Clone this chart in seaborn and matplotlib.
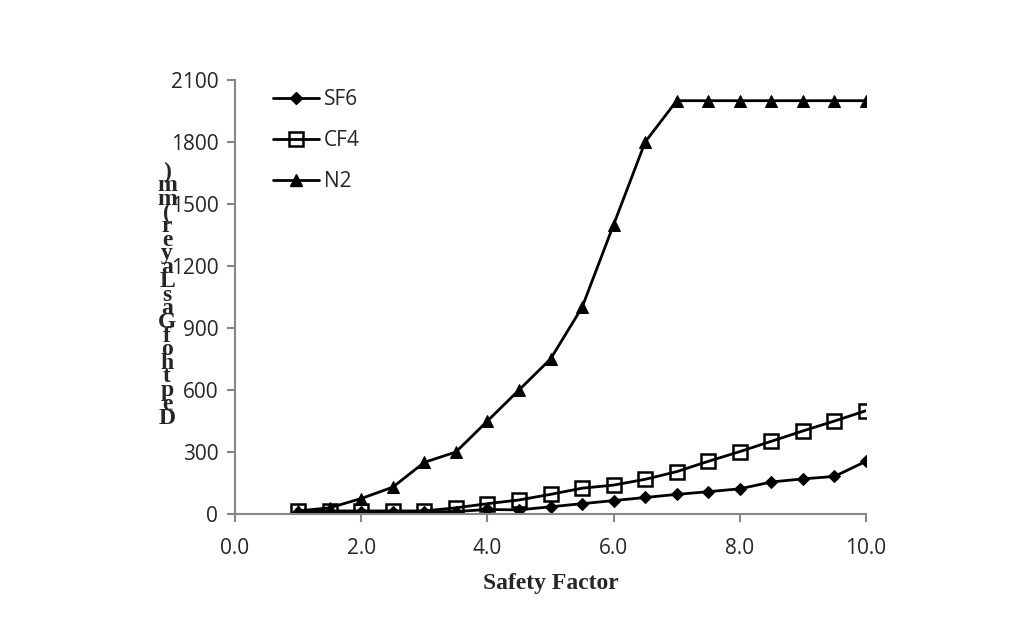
import numpy as np
import pandas as pd
import seaborn as sns
import matplotlib.pyplot as plt
from matplotlib.lines import Line2D

# data
safety_factor = [1.0, 1.5, 2.0, 2.5, 3.0, 3.5, 4.0, 4.5, 5.0, 5.5,
                 6.0, 6.5, 7.0, 7.5, 8.0, 8.5, 9.0, 9.5, 10.0]
sf6 = [10, 10, 10, 10, 10, 12, 22, 20, 35, 50,
       65, 80, 95, 108, 122, 155, 170, 182, 255]
cf4 = [15, 15, 15, 15, 15, 30, 50, 68, 95, 125,
       140, 168, 205, 255, 302, 352, 402, 450, 500]
n2 = [15, 30, 75, 130, 250, 300, 450, 600, 750, 1000,
      1400, 1800, 2000, 2000, 2000, 2000, 2000, 2000, 2000]
series_names = ['SF6', 'CF4', 'N2']
y_ticks = [0, 300, 600, 900, 1200, 1500, 1800, 2100]
x_ticks = [0.0, 2.0, 4.0, 6.0, 8.0, 10.0]
y_label = 'Depth of Gas Layer (mm)'
x_label = 'Safety Factor'

df = pd.DataFrame({'x': safety_factor, 'SF6': sf6, 'CF4': cf4, 'N2': n2})

sns.set_style('white')
tick_font = 'Open Sans'
axis_grey = '#868686'

fig = plt.figure(figsize=(10.29, 6.17), dpi=100)
ax = fig.add_axes([0.2284, 0.1669, 0.6132, 0.7034])

styles = {
    'SF6': dict(marker='D', markersize=6.5, markerfacecolor='black', markeredgecolor='black'),
    'CF4': dict(marker='s', markersize=10, markerfacecolor='none', markeredgecolor='black',
                markeredgewidth=1.8),
    'N2': dict(marker='^', markersize=8, markerfacecolor='black', markeredgecolor='black'),
}

handles = []
for name in series_names:
    sns.lineplot(data=df, x='x', y=name, ax=ax, color='black', linewidth=2.0,
                 **styles[name])
    handles.append(Line2D([], [], color='black', linewidth=2.0, label=name, **styles[name]))

ax.set_xlim(0, 10)
ax.set_ylim(0, 2100)
ax.set_xticks(x_ticks)
ax.set_xticklabels([f'{v:.1f}' for v in x_ticks], fontfamily=tick_font, fontsize=15)
ax.set_yticks(y_ticks)
ax.set_yticklabels([str(v) for v in y_ticks], fontfamily=tick_font, fontsize=15)
ax.tick_params(axis='x', pad=11)
ax.tick_params(axis='y', pad=6)
ax.tick_params(axis='both', direction='out', length=6, width=1.5, color=axis_grey,
               bottom=True, left=True)

for side in ['top', 'right']:
    ax.spines[side].set_visible(False)
for side in ['left', 'bottom']:
    ax.spines[side].set_color(axis_grey)
    ax.spines[side].set_linewidth(1.5)

ax.set_xlabel(x_label, fontfamily='Liberation Serif', fontweight='bold', fontsize=17,
              labelpad=10)
ax.set_ylabel('')

# stacked y label, letters upright, reading from bottom to top
chars = [c for c in y_label if c != ' ']
top_y, bottom_y = 1 - 172 / 617, 1 - 418 / 617
for i, c in enumerate(reversed(chars)):
    y = top_y + (bottom_y - top_y) * i / (len(chars) - 1)
    fig.text(167 / 1029, y, c, ha='center', va='center', fontfamily='Liberation Serif',
             fontweight='bold', fontsize=17)

leg = ax.legend(handles=handles, loc='upper left', bbox_to_anchor=(0.03, 1.022),
                frameon=False, prop={'family': tick_font, 'size': 15},
                handlelength=2.2, labelspacing=0.95, handletextpad=0.25)

fig.savefig('out.png', dpi=100)
